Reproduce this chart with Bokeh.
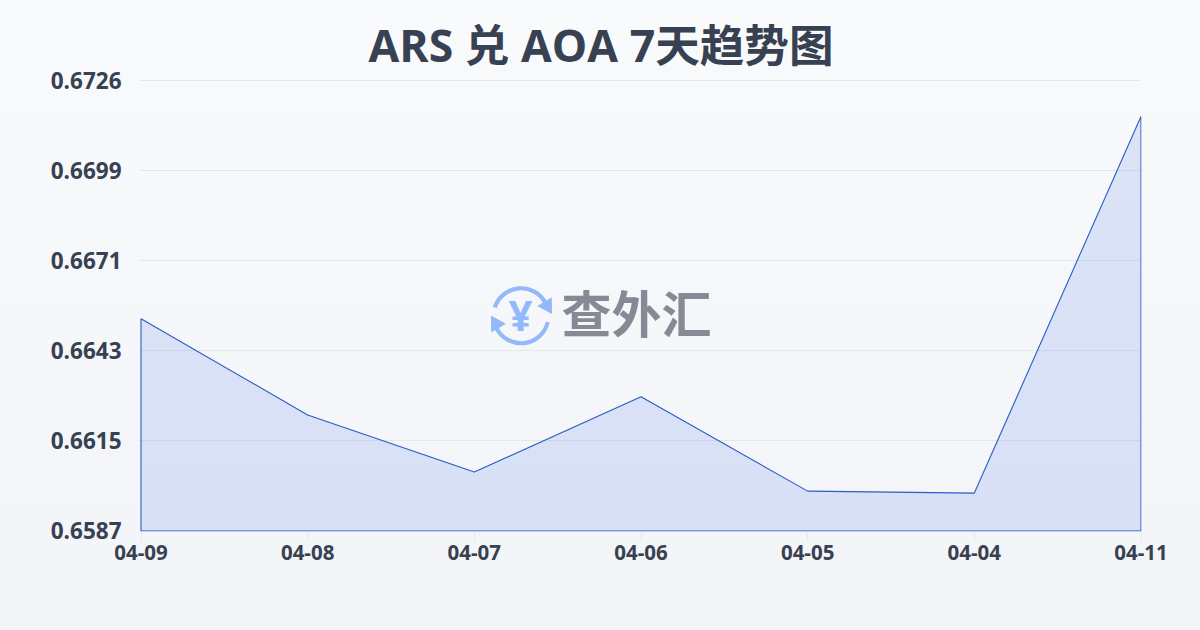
from bokeh.plotting import figure
from bokeh.embed import file_html
from bokeh.resources import INLINE
from bokeh.models import Range1d, FixedTicker, Label, Title
from bokeh.core.properties import value

dates = ["04-09", "04-08", "04-07", "04-06", "04-05", "04-04", "04-11"]
rates = [0.66525, 0.66228, 0.66052, 0.66284, 0.65993, 0.65987, 0.67149]
y_ticks = [0.6587, 0.66148, 0.66426, 0.66704, 0.66982, 0.6726]
y_labels = ["0.6587", "0.6615", "0.6643", "0.6671", "0.6699", "0.6726"]
y_min, y_max = 0.6587, 0.6726
INK = "#374151"
LATIN_CJK = "'Open Sans', 'Noto Sans CJK SC'"

xs = list(range(len(dates)))
x_px = (len(dates) - 1) / 1000
y_px = (y_max - y_min) / 450
p = figure(width=1200, height=630, output_backend="svg", toolbar_location=None,
           x_range=Range1d(-1.5 * x_px, len(dates) - 1 + 0.5 * x_px),
           y_range=Range1d(y_min - 0.5 * y_px, y_max + y_px),
           min_border_left=139, min_border_right=59, min_border_top=79, min_border_bottom=99)
p.background_fill_alpha = 0
p.border_fill_alpha = 0
p.outline_line_color = None

p.title = Title(text="ARS 兑 AOA 7天趋势图", align="left", offset=229, standoff=10,
                text_font=LATIN_CJK, text_font_size="44.6px", text_font_style="bold", text_color=INK)

p.xgrid.visible = False
p.ygrid.grid_line_color = "#e5e7eb"
p.ygrid.grid_line_width = 1
p.ygrid.ticker = FixedTicker(ticks=y_ticks)

p.xaxis.ticker = FixedTicker(ticks=xs)
p.xaxis.major_label_overrides = {i: d for i, d in enumerate(dates)}
p.xaxis.axis_line_color = None
p.xaxis.major_tick_line_color = "#e5e7eb"
p.xaxis.major_tick_in = 0
p.xaxis.major_tick_out = 10
p.xaxis.minor_tick_line_color = None
p.xaxis.major_label_standoff = 3
p.xaxis.major_label_text_font = LATIN_CJK
p.xaxis.major_label_text_font_size = "20.5px"
p.xaxis.major_label_text_font_style = "bold"
p.xaxis.major_label_text_color = INK

p.yaxis.ticker = FixedTicker(ticks=y_ticks)
p.yaxis.major_label_overrides = dict(zip(y_ticks, y_labels))
p.yaxis.axis_line_color = None
p.yaxis.major_tick_line_color = None
p.yaxis.minor_tick_line_color = None
p.yaxis.major_label_standoff = 12
p.yaxis.major_label_text_font = LATIN_CJK
p.yaxis.major_label_text_font_size = "22.5px"
p.yaxis.major_label_text_font_style = "bold"
p.yaxis.major_label_text_color = INK

p.patch(xs + [xs[-1], xs[0]], rates + [y_min, y_min],
        fill_color="#2f66e0", fill_alpha=0.14, line_color="#2a5cc5", line_width=1.1)

# watermark: coin icon and wordmark
cx = (520 - 140) / 1000 * (len(dates) - 1)
cy = y_min + (530 - 315) / 450 * (y_max - y_min)
BLUE = "#93b9fb"
p.arc(x=[cx], y=[cy], radius=27.5, radius_units="screen", start_angle=[0.50], end_angle=[2.83],
      line_color=BLUE, line_width=4.2)
p.arc(x=[cx], y=[cy], radius=27.5, radius_units="screen", start_angle=[3.60], end_angle=[6.05],
      line_color=BLUE, line_width=4.2)
p.scatter(x=[cx + 0.156], y=[cy + 0.00031], marker="triangle", size=17, angle=[-2.6],
          fill_color=BLUE, line_color=None)
p.scatter(x=[cx - 0.150], y=[cy - 0.00025], marker="triangle", size=17, angle=[0.54],
          fill_color=BLUE, line_color=None)
p.add_layout(Label(x=381, y=217, x_units="screen", y_units="screen", text="¥",
                   text_align="center", text_baseline="middle", text_font="Noto Sans",
                   text_font_size="42px", text_font_style="bold", text_color=BLUE))
p.add_layout(Label(x=497, y=221, x_units="screen", y_units="screen", text="查外汇",
                   text_align="center", text_baseline="middle", text_font="Noto Sans CJK SC",
                   text_font_size="50px", text_font_style="bold", text_color="#858a94"))

page_style = ("<style>html{background:linear-gradient(180deg,#f8fafc,#f2f4f7) no-repeat;"
              "background-size:100% 630px;}body{background:transparent;}</style>")
html = file_html(p, INLINE).replace("</head>", page_style + "</head>", 1)
open("out.html", "w").write(html)
